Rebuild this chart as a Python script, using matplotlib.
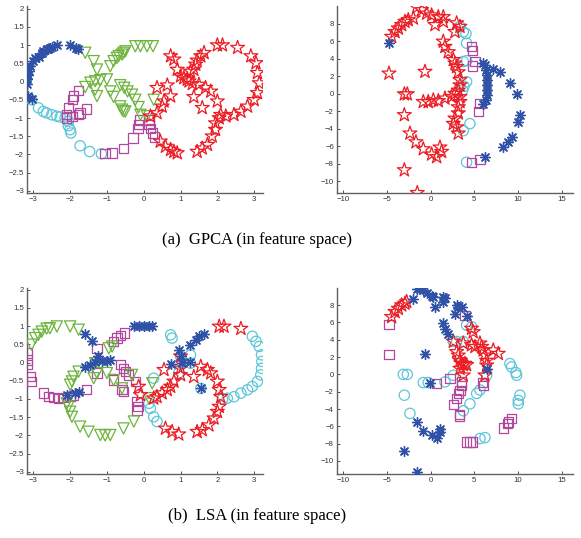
import matplotlib
matplotlib.use("Agg")
import matplotlib.pyplot as plt

BLUE = "#2f52a6"
CYAN = "#5cc6d8"
MAGENTA = "#b2479f"
GREEN = "#6cb43c"
RED = "#ec1c24"

# ---- (a) GPCA, input space view (left) ----
a_blue_x = [-1.80, -1.85, -2.0, -2.36, -2.5, -2.55, -2.6, -2.64, -2.73, -2.77, -2.86, -2.95, -3.0, -3.09, -3.12, -3.15, -3.16, -3.16, -3.14, -3.05]
a_blue_y = [0.90, 0.92, 0.99, 0.99, 0.95, 0.93, 0.90, 0.88, 0.83, 0.79, 0.68, 0.65, 0.56, 0.42, 0.28, 0.19, 0.06, -0.08, -0.40, -0.48]
a_cyan_x = [-3.05, -2.86, -2.73, -2.64, -2.5, -2.36, -2.27, -2.14, -2.05, -2.05, -2.0, -1.98, -1.73, -1.47, -1.15]
a_cyan_y = [-0.50, -0.72, -0.82, -0.86, -0.91, -0.95, -0.97, -1.0, -1.09, -1.21, -1.32, -1.41, -1.76, -1.92, -1.98]
a_mag_x = [-1.77, -1.91, -1.93, -2.05, -2.09, -2.09, -1.95, -1.77, -1.73, -1.56, -1.05, -0.86, -0.55, -0.29, -0.16, -0.14, -0.11, 0.14, 0.14, 0.18, 0.23, 0.29]
a_mag_y = [-0.24, -0.40, -0.50, -0.72, -0.91, -1.0, -0.95, -0.91, -0.86, -0.75, -1.98, -1.96, -1.83, -1.55, -1.28, -1.18, -1.05, -1.05, -1.18, -1.28, -1.41, -1.52]
a_green_x = [-1.59, -1.36, -1.27, -0.91, -0.82, -0.73, -0.68, -0.59, -0.55, -0.5, -0.23, -0.09, 0.09, 0.25,
             -1.59, -1.45, -1.32, -1.18, -1.0, -1.32, -1.27, -0.91, -0.82, -0.64, -0.55,
             -0.64, -0.53, -0.44, -0.32, -0.23, -0.14, -0.09, 0.09, 0.27, -0.59, -0.5]
a_green_y = [0.79, 0.56, 0.33, 0.42, 0.56, 0.65, 0.70, 0.74, 0.79, 0.83, 0.97, 0.97, 0.97, 0.97,
             -0.15, -0.03, 0.01, 0.04, 0.06, -0.22, -0.40, -0.27, -0.42, -0.68, -0.82,
             -0.10, -0.17, -0.27, -0.36, -0.50, -0.70, -0.91, -0.95, -0.50, -0.77, -0.82]
a_red_x = [0.73, 0.82, 0.91, 1.0, 1.09, 1.18, 1.23, 1.32, 1.27, 1.36, 1.41, 1.45, 1.55, 1.64,
           2.0, 2.14, 2.55, 2.91, 3.05, 3.09, 3.14, 3.09, 3.0, 2.82, 2.64, 2.45, 2.23, 2.05,
           1.95, 1.95, 1.86, 1.73, 1.59, 1.45, 1.5, 1.68, 1.82, 1.36, 1.59, 2.0, 2.09,
           0.36, 0.64, 0.73, 0.55, 0.5, 0.36, 0.18, 0.45, 0.59, 0.73, 0.91, 0.82]
a_red_y = [0.70, 0.61, 0.33, 0.15, 0.10, 0.06, 0.01, -0.06, 0.28, 0.33, 0.47, 0.58, 0.70, 0.79,
           1.0, 1.0, 0.93, 0.70, 0.51, 0.24, -0.04, -0.31, -0.50, -0.68, -0.82, -0.91, -0.95, -1.0,
           -1.14, -1.32, -1.50, -1.73, -1.83, -1.92, -0.08, -0.17, -0.27, -0.42, -0.72, -0.54, -0.91,
           -0.17, -0.10, -0.40, -0.54, -0.68, -0.86, -0.95, -1.64, -1.78, -1.87, -1.96, -1.92]

# ---- (a) GPCA, feature space view (right) ----
b_red_x = [-1.60, -1.03, -0.46, 0.11, 0.88, 1.45, -1.98, -2.56, -2.94, -3.32, -3.7, -4.08, -4.47,
           0.5, 1.45, 2.98, 2.79, 3.36,
           1.45, 1.64, 2.02, 2.6, 2.79, 2.98, 3.17, 3.36, 3.36, 3.17, 3.36, 3.36, 3.17, 3.17, 2.79, 2.6, 2.98, 3.17,
           -0.84, -0.27, 0.31, 0.88, 1.64, 2.4, 2.79,
           -4.77, -0.65, -3.01, -2.67, -3.01, -2.37, -1.68, -0.84, 0.11, 0.69, 1.07, 1.26, -3.01, -1.53]
b_red_y = [9.9, 9.6, 9.2, 9.0, 8.8, 8.8, 8.65, 8.46, 8.27, 7.9, 7.5, 7.1, 6.55,
           7.9, 8.27, 8.1, 7.1, 7.7,
           6.0, 5.4, 4.8, 3.9, 3.5, 3.1, 2.5, 1.6, 1.0, 0.4, -0.33, -0.9, -1.5, -2.2, -2.8, -3.4, -3.8, -4.5,
           -0.9, -0.9, -0.7, -0.8, -0.5, -0.33, 0.04,
           2.35, 2.55, -0.02, -0.02, -2.4, -4.5, -5.5, -6.3, -6.9, -7.2, -6.1, -6.6, -8.7, -11.3]
b_blue_x = [-4.77, 6.03, 7.18, 7.94, 9.08, 9.85, 10.23, 10.04, 9.27, 8.89, 8.32, 6.22,
            6.22, 6.34, 6.41, 6.41, 6.49, 6.49, 6.41, 6.34, 6.03]
b_blue_y = [5.8, 3.5, 2.9, 2.5, 1.2, 0.04, -2.4, -3.2, -4.9, -5.5, -6.1, -7.2,
            3.3, 2.7, 2.2, 1.6, 1.0, 0.42, -0.15, -0.7, -1.1]
b_cyan_x = [3.36, 3.74, 4.05, 4.12, 3.74, 4.12, 4.12, 3.82, 3.66, 4.5, 3.74, 4.12]
b_cyan_y = [7.7, 7.1, 6.9, 5.8, 3.7, 3.8, 1.4, 0.88, 0.42, -3.4, -4.2, -7.8]
b_mag_x = [4.69, 4.81, 5.08, 4.81, 5.65, 5.46, 4.69, 5.65]
b_mag_y = [5.4, 5.0, 3.7, 3.2, -1.1, -2.0, -7.8, -7.5]

# ---- (b) LSA, input space view (left) ----
c_green_x = [-3.05, -2.95, -2.86, -2.77, -2.64, -2.55, -2.36, -2.0, -1.77, -0.86, -0.95,
             -1.32, -1.27, -1.36, -1.77, -1.91, -1.95, -2.0, -2.09, -2.05, -2.0, -1.95,
             -1.0, -0.82, -0.59, -0.32, -1.73, -1.5, -1.18, -1.05, -0.91, -0.55, -0.27, 0.23, 0.14]
c_green_y = [0.49, 0.67, 0.76, 0.85, 0.93, 0.94, 0.99, 0.99, 0.90, 0.44, 0.39,
             -0.02, -0.29, -0.43, -0.25, -0.39, -0.52, -0.61, -1.12, -1.21, -1.35, -1.49,
             -0.29, -0.48, -0.71, -0.34, -1.76, -1.90, -1.99, -2.0, -1.99, -1.81, -1.62, -0.57, -0.98]
c_blue_x = [-1.59, -1.41, -1.23, -1.45, -1.59, -1.32, -1.14, -1.0, -0.91, -2.09, -1.86, -1.77,
            -0.27, -0.14, 0.0, 0.14, 0.23, 0.95, 1.27, 1.41, 1.5, 1.64, 0.73, 1.05, 1.27, 1.0, 1.55]
c_blue_y = [0.79, 0.58, 0.17, -0.06, -0.11, 0.01, 0.03, 0.05, 0.07, -0.89, -0.84, -0.80,
            1.0, 1.0, 1.0, 1.0, 1.0, 0.35, 0.49, 0.62, 0.72, 0.78, -0.05, -0.02, 0.01, 0.17, -0.71]
c_mag_x = [-3.16, -3.16, -3.16, -3.09, -3.05, -2.73, -2.59, -2.45, -2.32, -2.18, -2.0, -1.91, -1.55,
           -1.27, -0.82, -0.73, -0.64, -0.53, -1.27, -0.64, -0.55, -0.5, -0.41, -0.82, -0.59, -0.55,
           -0.23, -0.18, -0.16, -0.18]
c_mag_y = [0.26, 0.07, -0.06, -0.39, -0.52, -0.84, -0.94, -0.96, -0.98, -0.96, -0.94, -0.91, -0.75,
           0.39, 0.58, 0.67, 0.74, 0.81, -0.29, -0.06, -0.16, -0.25, -0.34, -0.48, -0.75, -0.80,
           -0.52, -1.07, -1.21, -1.30]
c_cyan_x = [0.73, 0.77, 0.27, 1.0, 1.05, 1.27, 1.27, 0.95, 1.55, 0.14, 0.18, 0.27, 0.36,
            2.95, 3.05, 3.14, 3.2, 3.21, 3.2, 3.18, 3.09, 2.95, 2.82, 2.64, 2.45, 2.27, 2.14]
c_cyan_y = [0.76, 0.67, -0.43, 0.17, -0.02, 0.21, -0.02, -0.29, -0.71, -1.12, -1.26, -1.49, -1.62,
            0.72, 0.58, 0.44, 0.21, 0.03, -0.16, -0.34, -0.52, -0.66, -0.75, -0.84, -0.94, -0.98, -1.0]
c_red_x = [2.05, 2.18, 2.64, 0.55, 0.82, 0.73, 0.64, 0.5, 0.36, 0.27, 1.0, 1.0, 1.36, 1.55, 1.73, 1.82,
           2.0, 2.05, 2.09, 2.05, 2.0, 1.91, 1.77, 1.59, 1.45, 0.95, 0.77, 0.59, -0.14, -0.09, 1.0]
c_red_y = [0.99, 0.99, 0.93, -0.2, -0.52, -0.66, -0.75, -0.84, -0.94, -0.98, -0.16, -0.34, -0.39, -0.11,
           -0.2, -0.29, -0.52, -0.75, -0.94, -1.21, -1.35, -1.53, -1.72, -1.85, -1.9, -1.97, -1.9, -1.81,
           -0.66, -0.89, 0.17]

# ---- (b) LSA, feature space view (right) ----
d_blue_x = [-1.6, -1.22, -0.84, -0.46, 0.11, 0.31, 1.45, 1.45, 1.64, -1.98, 0.5, 2.98, 3.17, 3.55,
            2.79, 4.12, 1.45, 1.64, 2.02, -0.65, -0.08, -1.6, -0.84, 0.11, 0.69, 1.07, 1.07,
            -3.01, -1.53, 6.41]
d_blue_y = [9.9, 9.85, 9.73, 9.46, 9.08, 8.96, 8.96, 8.39, 8.77, 8.69, 7.8, 8.07, 7.8, 7.8,
            7.0, 6.8, 5.9, 5.3, 4.7, 2.4, -0.94, -5.5, -6.5, -7.0, -7.4, -6.6, -6.3,
            -8.8, -11.3, 0.67]
d_red_x = [-4.47, -4.08, -3.7, -3.32, -2.94, -2.75, 2.6, 2.98, 3.17, 3.36, 3.55, 3.74, 3.93, 4.12,
           3.36, 3.74, 4.69, 4.88, 3.74, 4.69, 5.08, 5.65, 5.84, 6.03, 6.22, 6.41, 6.41, 7.18, 7.75, 6.22]
d_red_y = [6.65, 7.23, 7.6, 8.0, 8.2, 8.4, 3.8, 2.6, 2.2, 1.6, 1.25, 1.1, 1.25, 1.1,
           0.67, -0.1, 5.3, 4.9, 3.6, 3.4, 3.2, 3.6, 3.2, 2.8, 2.2, 1.6, 1.05, 2.8, 2.4, -0.1]
d_cyan_x = [-3.13, -2.67, -3.01, -2.37, -0.84, -0.27, 1.64, 2.6, 4.12, 4.69, 2.6, 2.98, 3.74,
            4.5, 3.74, 5.27, 5.65, 6.41, 9.08, 9.27, 9.77, 9.85, 10.23, 10.04, 10.04, 5.65, 6.22]
d_cyan_y = [0.0, 0.0, -2.4, -4.5, -0.94, -0.94, -0.87, -0.1, 5.7, 5.5, 3.8, 3.8, 3.8,
            -3.4, -4.2, -2.2, -1.8, -0.1, 1.25, 0.86, 0.21, -0.1, -2.4, -3.0, -3.4, -7.4, -7.3]
d_mag_x = [-4.77, -4.77, 0.69, 2.21, 3.55, 3.55, 3.36, 3.17, 2.98, 2.6, 3.29, 3.29, 3.93,
           5.96, 6.03, 8.32, 8.78, 8.89, 9.27, 4.12, 4.5, 4.81]
d_mag_y = [5.76, 2.33, -1.06, -0.5, -0.87, -1.25, -1.83, -2.2, -2.8, -3.5, -4.6, -4.8, 6.8,
           -0.94, -1.25, -6.2, -5.7, -5.5, -5.1, -7.8, -7.8, -7.8]

left_xticks = [-3, -2, -1, 0, 1, 2, 3]
left_yticks = [-3, -2.5, -2, -1.5, -1, -0.5, 0, 0.5, 1, 1.5, 2]
right_xticks = [-10, -5, 0, 5, 10, 15]
right_yticks = [-10, -8, -6, -4, -2, 0, 2, 4, 6, 8]

ASTER = (8, 2, 0)


def draw(ax, series):
    for x, y, marker, color, size in series:
        if marker == ASTER:
            ax.scatter(x, y, s=size, marker=marker, c=color, linewidths=1.0, zorder=3)
        else:
            ax.scatter(x, y, s=size, marker=marker, facecolors="none",
                       edgecolors=color, linewidths=0.9, zorder=3)


def style(ax, xlim, ylim, xticks, yticks):
    ax.set_xlim(*xlim)
    ax.set_ylim(*ylim)
    ax.set_xticks(xticks)
    ax.set_yticks(yticks)
    ax.set_xticklabels([("%g" % v).replace("-", "\u2212") for v in xticks])
    ax.set_yticklabels([("%g" % v).replace("-", "\u2212") for v in yticks])
    for s in ("top", "right"):
        ax.spines[s].set_visible(False)
    for s in ("left", "bottom"):
        ax.spines[s].set_color("#606060")
        ax.spines[s].set_linewidth(1.0)
    ax.tick_params(direction="in", length=2, width=0.6, labelsize=5.6,
                   colors="#333333", pad=2)


fig = plt.figure(figsize=(5.81, 5.38), dpi=100)
plt.rcParams["font.family"] = "Liberation Sans"

CS, SS, TS, RS, BS = 55, 45, 65, 110, 50

axA = fig.add_axes([0.046, 0.641, 0.406, 0.347])
draw(axA, [(a_cyan_x, a_cyan_y, "o", CYAN, CS), (a_mag_x, a_mag_y, "s", MAGENTA, SS),
           (a_green_x, a_green_y, "v", GREEN, TS), (a_red_x, a_red_y, "*", RED, RS),
           (a_blue_x, a_blue_y, ASTER, BLUE, BS)])
style(axA, (-3.18, 3.23), (-3.06, 2.06), left_xticks, left_yticks)

axB = fig.add_axes([0.5795, 0.641, 0.406, 0.347])
draw(axB, [(b_cyan_x, b_cyan_y, "o", CYAN, CS), (b_mag_x, b_mag_y, "s", MAGENTA, SS),
           (b_red_x, b_red_y, "*", RED, RS), (b_blue_x, b_blue_y, ASTER, BLUE, BS)])
style(axB, (-10.76, 16.26), (-11.34, 10.0), right_xticks, right_yticks)

axC = fig.add_axes([0.046, 0.119, 0.406, 0.346])
draw(axC, [(c_cyan_x, c_cyan_y, "o", CYAN, CS), (c_mag_x, c_mag_y, "s", MAGENTA, SS),
           (c_green_x, c_green_y, "v", GREEN, TS), (c_red_x, c_red_y, "*", RED, RS),
           (c_blue_x, c_blue_y, ASTER, BLUE, BS)])
style(axC, (-3.18, 3.23), (-3.06, 2.05), left_xticks, left_yticks)

axD = fig.add_axes([0.5795, 0.119, 0.406, 0.346])
draw(axD, [(d_cyan_x, d_cyan_y, "o", CYAN, CS), (d_mag_x, d_mag_y, "s", MAGENTA, SS),
           (d_red_x, d_red_y, "*", RED, RS), (d_blue_x, d_blue_y, ASTER, BLUE, BS)])
style(axD, (-10.76, 16.26), (-11.5, 10.0), right_xticks, right_yticks)

fig.text(0.443, 0.553, "(a)  GPCA (in feature space)", ha="center", va="center",
         family="Liberation Serif", fontsize=12)
fig.text(0.443, 0.040, "(b)  LSA (in feature space)", ha="center", va="center",
         family="Liberation Serif", fontsize=12)

fig.savefig("out.png", dpi=100)
